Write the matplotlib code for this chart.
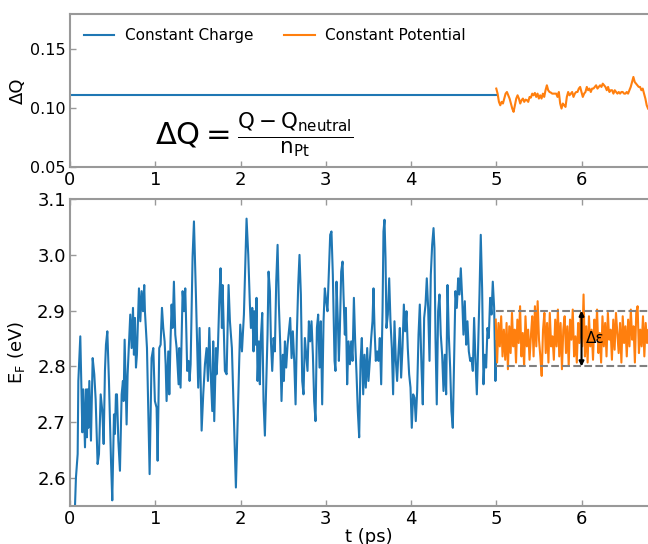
import numpy as np
import matplotlib
matplotlib.use('Agg')
import matplotlib.pyplot as plt

plt.rcParams['mathtext.default'] = 'regular'
plt.rcParams['font.family'] = ['DejaVu Sans']

# ---- data ----
# constant charge run, Fermi level (eV)
t_charge = [0.059, 0.070, 0.090, 0.098, 0.121, 0.145, 0.156, 0.176, 0.188, 0.199,
            0.207, 0.215, 0.227, 0.246, 0.266, 0.285, 0.301, 0.324, 0.340, 0.360,
            0.379, 0.395, 0.410, 0.422, 0.438, 0.457, 0.481, 0.496, 0.516, 0.527,
            0.539, 0.551, 0.567, 0.586, 0.606, 0.621, 0.629, 0.641, 0.664, 0.676,
            0.692, 0.707, 0.723, 0.739, 0.750, 0.762, 0.774, 0.785, 0.809, 0.825,
            0.840, 0.856, 0.871, 0.879, 0.903, 0.934,
            0.957, 0.977, 0.996, 1.016, 1.028, 1.047, 1.063, 1.079, 1.094, 1.110,
            1.122, 1.133, 1.153, 1.165, 1.180, 1.192, 1.204, 1.219, 1.235, 1.251,
            1.274, 1.282, 1.297, 1.321, 1.337, 1.352, 1.360, 1.375, 1.391, 1.403,
            1.415, 1.438, 1.454, 1.477, 1.504, 1.520, 1.544, 1.563, 1.583, 1.602,
            1.618, 1.634, 1.649, 1.669, 1.680, 1.692, 1.712, 1.719, 1.735, 1.751,
            1.766, 1.782, 1.790, 1.817, 1.837, 1.860, 1.876, 1.899, 1.923, 1.946,
            1.966, 1.985, 1.997, 2.017, 2.040, 2.071, 2.091, 2.110,
            2.122, 2.138, 2.153, 2.161, 2.177, 2.188, 2.200, 2.216, 2.227, 2.239,
            2.255, 2.270, 2.286, 2.302, 2.317, 2.329, 2.345, 2.357, 2.372, 2.388,
            2.403, 2.419, 2.435, 2.450, 2.466, 2.481, 2.497, 2.509, 2.521, 2.536,
            2.552, 2.567, 2.583, 2.599, 2.614, 2.630, 2.646, 2.661, 2.677, 2.692,
            2.708, 2.724, 2.739, 2.755, 2.771, 2.786, 2.802, 2.817, 2.833, 2.849,
            2.864, 2.880, 2.896, 2.911, 2.927, 2.942, 2.958, 2.974, 2.989, 3.005,
            3.020, 3.036, 3.052, 3.067, 3.083,
            3.103, 3.114, 3.126, 3.142, 3.154, 3.165, 3.181, 3.197, 3.208, 3.224,
            3.236, 3.251, 3.267, 3.283, 3.298, 3.314, 3.330, 3.345, 3.361, 3.376,
            3.392, 3.408, 3.423, 3.439, 3.454, 3.470, 3.486, 3.501, 3.517, 3.533,
            3.548, 3.560, 3.572, 3.587, 3.603, 3.619, 3.634, 3.650, 3.666, 3.677,
            3.689, 3.701, 3.712, 3.728, 3.744, 3.759, 3.775, 3.790, 3.806, 3.822,
            3.837, 3.853, 3.869, 3.884, 3.900, 3.916, 3.931, 3.947, 3.962, 3.978,
            3.994, 4.009, 4.025, 4.041, 4.056, 4.072, 4.088, 4.103,
            4.123, 4.138, 4.154, 4.170, 4.185, 4.201, 4.217, 4.232, 4.248, 4.264,
            4.275, 4.287, 4.302, 4.318, 4.334, 4.349, 4.365, 4.381, 4.396, 4.412,
            4.428, 4.443, 4.459, 4.474, 4.490, 4.506, 4.521, 4.537, 4.553, 4.568,
            4.584, 4.600, 4.615, 4.631, 4.647, 4.662, 4.678, 4.694, 4.709, 4.725,
            4.740, 4.756, 4.772, 4.787, 4.803, 4.818, 4.834, 4.850, 4.865, 4.881,
            4.897, 4.912, 4.928, 4.944, 4.959, 4.975, 4.990, 5.002]
ef_charge = [2.551, 2.601, 2.643, 2.774, 2.854, 2.682, 2.759, 2.655, 2.759, 2.673,
             2.759, 2.690, 2.774, 2.667, 2.815, 2.786, 2.741, 2.625, 2.643, 2.750,
             2.720, 2.661, 2.792, 2.839, 2.863, 2.774, 2.631, 2.560, 2.714, 2.679,
             2.750, 2.750, 2.667, 2.613, 2.750, 2.774, 2.738, 2.848, 2.696, 2.786,
             2.839, 2.893, 2.833, 2.905, 2.821, 2.887, 2.798, 2.821, 2.940, 2.881,
             2.935, 2.899, 2.946, 2.899, 2.833, 2.607,
             2.815, 2.833, 2.738, 2.726, 2.631, 2.833, 2.839, 2.905, 2.869, 2.845,
             2.804, 2.738, 2.827, 2.750, 2.851, 2.911, 2.869, 2.952, 2.857, 2.833,
             2.768, 2.833, 2.762, 2.935, 2.899, 2.940, 2.893, 2.792, 2.810, 2.774,
             2.804, 2.997, 3.060, 2.929, 2.762, 2.869, 2.685, 2.750, 2.804, 2.833,
             2.774, 2.869, 2.792, 2.720, 2.845, 2.702, 2.833, 2.786, 2.833, 2.917,
             2.976, 2.869, 2.946, 2.792, 2.786, 2.946, 2.881, 2.833, 2.702, 2.583,
             2.702, 2.810, 2.875, 2.827, 2.893, 3.065, 3.000, 2.911,
             2.869, 2.905, 2.827, 2.899, 2.839, 2.923, 2.774, 2.845, 2.768, 2.851,
             2.896, 2.738, 2.676, 2.768, 2.857, 2.970, 2.935, 2.845, 2.792, 2.851,
             2.827, 2.952, 3.018, 2.911, 2.839, 2.738, 2.821, 2.774, 2.845, 2.798,
             2.839, 2.863, 2.887, 2.815, 2.863, 2.810, 2.732, 2.857, 2.946, 3.000,
             2.929, 2.774, 2.750, 2.851, 2.821, 2.792, 2.881, 2.845, 2.881, 2.821,
             2.738, 2.702, 2.869, 2.893, 2.798, 2.881, 2.732, 2.881, 2.940, 2.917,
             2.899, 2.970, 3.036, 3.042, 2.964,
             2.810, 2.792, 2.952, 2.881, 2.810, 2.863, 2.970, 2.988, 2.929, 2.857,
             2.905, 2.768, 2.845, 2.804, 2.845, 2.810, 2.923, 2.845, 2.786, 2.720,
             2.673, 2.810, 2.851, 2.750, 2.821, 2.762, 2.833, 2.774, 2.810, 2.851,
             2.881, 2.940, 2.869, 2.810, 2.827, 2.810, 2.851, 2.768, 2.899, 3.042,
             3.063, 2.994, 2.869, 2.893, 2.958, 2.881, 2.833, 2.750, 2.881, 2.810,
             2.774, 2.827, 2.869, 2.780, 2.833, 2.911, 2.863, 2.899, 2.833, 2.786,
             2.762, 2.690, 2.750, 2.744, 2.702, 2.756, 2.857, 2.911,
             2.798, 2.732, 2.887, 2.911, 2.958, 2.905, 2.810, 2.964, 3.018, 3.048,
             3.012, 2.851, 2.732, 2.899, 2.929, 2.857, 2.821, 2.756, 2.821, 2.750,
             2.946, 2.857, 2.798, 2.720, 2.690, 2.821, 2.935, 2.905, 2.958, 2.929,
             2.976, 2.923, 2.857, 2.917, 2.839, 2.881, 2.827, 2.810, 2.815, 2.792,
             2.887, 2.810, 2.750, 2.833, 2.929, 3.036, 2.940, 2.768, 2.821, 2.798,
             2.869, 2.851, 2.923, 2.893, 2.952, 2.905, 2.774, 2.845]

# constant potential run, Fermi level (eV), evenly sampled from 5.0 ps
ef_potential = [2.884, 2.807, 2.878, 2.836, 2.890, 2.818, 2.866, 2.812, 2.878, 2.795,
                2.872, 2.824, 2.896, 2.836, 2.866, 2.807, 2.884, 2.842, 2.908, 2.818,
                2.860, 2.801, 2.890, 2.836, 2.866, 2.812, 2.854, 2.890, 2.818, 2.908,
                2.836, 2.917, 2.848, 2.818, 2.783, 2.866, 2.896, 2.824, 2.878, 2.807,
                2.896, 2.836, 2.854, 2.812, 2.884, 2.836, 2.902, 2.818, 2.878, 2.795,
                2.866, 2.890, 2.824, 2.872, 2.801, 2.884, 2.848, 2.902, 2.818, 2.854,
                2.807, 2.878, 2.842, 2.896, 2.836, 2.929, 2.818, 2.872, 2.807, 2.890,
                2.836, 2.866, 2.812, 2.884, 2.848, 2.902, 2.824, 2.860, 2.807, 2.890,
                2.836, 2.878, 2.818, 2.896, 2.848, 2.866, 2.812, 2.884, 2.830, 2.896,
                2.860, 2.824, 2.878, 2.807, 2.890, 2.842, 2.872, 2.818, 2.884, 2.836,
                2.902, 2.848, 2.872, 2.807, 2.896, 2.908, 2.824, 2.866, 2.836, 2.890,
                2.818, 2.878, 2.842, 2.866, 2.824]

# charge difference per Pt atom
t_dq_charge = [0.0, 5.0]
dq_charge = [0.1115, 0.1115]
dq_potential = [0.1167, 0.1124, 0.1054, 0.1025, 0.1054, 0.1040, 0.1082, 0.1124, 0.1138, 0.1110,
                0.1082, 0.1040, 0.0997, 0.0969, 0.1025, 0.1082, 0.1110, 0.1082, 0.1040, 0.1068,
                0.1082, 0.1054, 0.1073, 0.1068, 0.1054, 0.1096, 0.1090, 0.1124, 0.1110, 0.1130,
                0.1096, 0.1124, 0.1082, 0.1110, 0.1082, 0.1124, 0.1096, 0.1153, 0.1195, 0.1153,
                0.1138, 0.1133, 0.1124, 0.1124, 0.1124, 0.1124, 0.1096, 0.1138, 0.1040, 0.0997,
                0.1040, 0.1025, 0.1011, 0.1096, 0.1138, 0.1110, 0.1124, 0.1138, 0.1096, 0.1124,
                0.1138, 0.1138, 0.1167, 0.1181, 0.1138, 0.1096, 0.1124, 0.1138, 0.1181, 0.1153,
                0.1167, 0.1138, 0.1167, 0.1167, 0.1181, 0.1195, 0.1167, 0.1181, 0.1195, 0.1181,
                0.1209, 0.1195, 0.1181, 0.1153, 0.1181, 0.1138, 0.1153, 0.1153, 0.1124, 0.1153,
                0.1138, 0.1124, 0.1138, 0.1124, 0.1138, 0.1138, 0.1124, 0.1124, 0.1138, 0.1124,
                0.1153, 0.1181, 0.1223, 0.1266, 0.1223, 0.1209, 0.1195, 0.1181, 0.1181, 0.1153,
                0.1167, 0.1124, 0.1082, 0.1025, 0.0997]

t_ef_potential = np.linspace(4.994, 6.80, len(ef_potential))
t_dq_potential = np.linspace(5.0, 6.78, len(dq_potential))

blue = '#1f77b4'
orange = '#ff7f0e'
spine_col = '#999999'

fig = plt.figure(figsize=(6.48, 5.44), dpi=100)
ax1 = fig.add_axes([0.108, 0.693, 0.921, 0.281])
ax2 = fig.add_axes([0.108, 0.070, 0.921, 0.564])

# top panel
ax1.plot(t_dq_charge, dq_charge, color=blue, lw=1.5, label='Constant Charge')
ax1.plot(t_dq_potential, dq_potential, color=orange, lw=1.5, label='Constant Potential')
ax1.set_xlim(0, 7)
ax1.set_ylim(0.05, 0.18)
ax1.set_yticks([0.05, 0.10, 0.15])
ax1.set_ylabel('ΔQ', fontsize=13)
ax1.yaxis.set_label_coords(-0.072, 0.5)
ax1.legend(loc='upper left', ncol=2, frameon=False, fontsize=11,
           handlelength=2.0, handletextpad=0.7, columnspacing=2.0,
           borderaxespad=0.5)
ax1.text(1.0, 0.077, r'$\Delta Q = \frac{Q - Q_{neutral}}{n_{Pt}}$',
         fontsize=22, ha='left', va='center')

# bottom panel
ax2.plot(t_charge, ef_charge, color=blue, lw=1.5)
ax2.plot(t_ef_potential, ef_potential, color=orange, lw=1.5)
ax2.hlines([2.8, 2.9], 5.0, 7.0, colors='gray', linestyles='--', lw=1.5, zorder=3)
ax2.annotate('', xy=(6.0, 2.8), xytext=(6.0, 2.9),
             arrowprops=dict(arrowstyle='<|-|>', color='k', lw=1.5,
                             mutation_scale=7, shrinkA=0, shrinkB=0), zorder=4)
ax2.text(6.05, 2.85, 'Δε', fontsize=11, ha='left', va='center', zorder=5)
ax2.set_xlim(0, 7)
ax2.set_ylim(2.55, 3.1)
ax2.set_yticks([2.6, 2.7, 2.8, 2.9, 3.0, 3.1])
ax2.set_xlabel('t (ps)', fontsize=13, labelpad=0)
ax2.set_ylabel(r'$E_F$ (eV)', fontsize=13)
ax2.yaxis.set_label_coords(-0.072, 0.5)

for ax in (ax1, ax2):
    ax.set_xticks(range(7))
    ax.tick_params(direction='in', length=4, width=1, color=spine_col,
                   labelsize=13, pad=3)
    for s in ax.spines.values():
        s.set_color(spine_col)
        s.set_linewidth(1.5)
ax1.tick_params(axis='y', labelsize=11.5)
ax2.tick_params(top=True)

fig.savefig('out.png', dpi=100)
